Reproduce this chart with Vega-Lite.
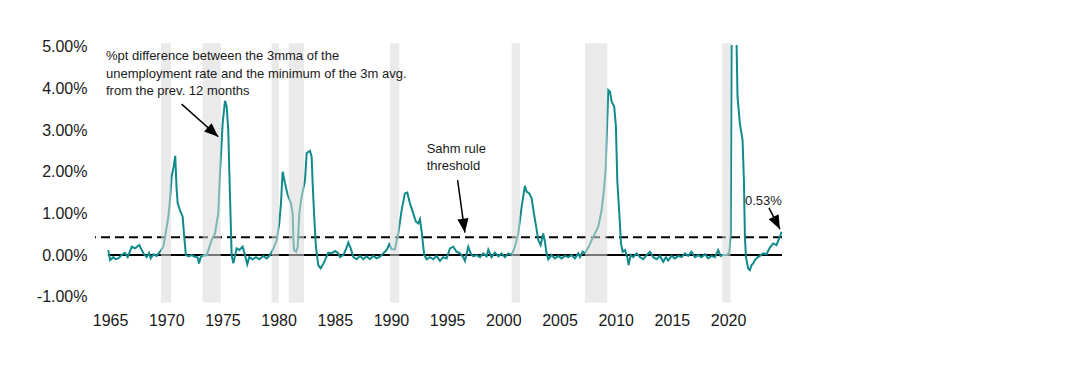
{
  "$schema": "https://vega.github.io/schema/vega-lite/v6.json",
  "width": 687,
  "height": 258,
  "autosize": {"type": "none"},
  "padding": {"left": 95, "top": 45, "right": 306, "bottom": 67},
  "background": "white",
  "config": {"view": {"stroke": null}, "font": "Liberation Sans"},
  "datasets": {
    "series": [
      {"t": 1964.84, "v": 0.12}, {"t": 1965.0, "v": -0.12}, {"t": 1965.29, "v": -0.05}, {"t": 1965.5, "v": -0.1}, {"t": 1965.73, "v": -0.08},
      {"t": 1966.03, "v": 0}, {"t": 1966.33, "v": 0.05}, {"t": 1966.57, "v": -0.05}, {"t": 1966.93, "v": 0.2}, {"t": 1967.22, "v": 0.16},
      {"t": 1967.6, "v": 0.24}, {"t": 1967.82, "v": 0.12}, {"t": 1968.02, "v": 0.02}, {"t": 1968.26, "v": -0.05}, {"t": 1968.47, "v": 0.05},
      {"t": 1968.62, "v": -0.08}, {"t": 1968.85, "v": 0.02}, {"t": 1969.15, "v": -0.02}, {"t": 1969.44, "v": 0.08}, {"t": 1969.74, "v": 0.2},
      {"t": 1969.9, "v": 0.45}, {"t": 1970.19, "v": 0.92}, {"t": 1970.33, "v": 1.32}, {"t": 1970.48, "v": 1.88}, {"t": 1970.68, "v": 2.15},
      {"t": 1970.8, "v": 2.38}, {"t": 1970.92, "v": 1.6}, {"t": 1971.02, "v": 1.24}, {"t": 1971.22, "v": 1.08}, {"t": 1971.46, "v": 0.92},
      {"t": 1971.6, "v": 0.44}, {"t": 1971.75, "v": 0.0}, {"t": 1972.0, "v": -0.03}, {"t": 1972.26, "v": 0.0}, {"t": 1972.56, "v": -0.04},
      {"t": 1972.8, "v": -0.06}, {"t": 1972.92, "v": -0.2}, {"t": 1973.1, "v": -0.02}, {"t": 1973.3, "v": -0.02}, {"t": 1973.6, "v": 0},
      {"t": 1973.75, "v": 0.12}, {"t": 1974.04, "v": 0.36}, {"t": 1974.34, "v": 0.52}, {"t": 1974.63, "v": 1.0}, {"t": 1974.78, "v": 1.96},
      {"t": 1975.02, "v": 3.16}, {"t": 1975.23, "v": 3.7}, {"t": 1975.38, "v": 3.56}, {"t": 1975.52, "v": 3.0}, {"t": 1975.61, "v": 2.04},
      {"t": 1975.82, "v": 0}, {"t": 1975.97, "v": -0.2}, {"t": 1976.27, "v": 0.16}, {"t": 1976.5, "v": 0.12}, {"t": 1976.8, "v": 0.2},
      {"t": 1977.01, "v": 0.0}, {"t": 1977.21, "v": -0.22}, {"t": 1977.39, "v": -0.05}, {"t": 1977.69, "v": -0.1}, {"t": 1977.99, "v": -0.05},
      {"t": 1978.28, "v": -0.1}, {"t": 1978.64, "v": -0.02}, {"t": 1978.94, "v": -0.08}, {"t": 1979.23, "v": 0}, {"t": 1979.53, "v": 0.15},
      {"t": 1979.83, "v": 0.36}, {"t": 1980.06, "v": 0.76}, {"t": 1980.21, "v": 1.24}, {"t": 1980.36, "v": 2.0}, {"t": 1980.57, "v": 1.72},
      {"t": 1980.81, "v": 1.44}, {"t": 1981.1, "v": 1.24}, {"t": 1981.25, "v": 1.0}, {"t": 1981.31, "v": 0.44}, {"t": 1981.37, "v": 0.12},
      {"t": 1981.55, "v": 0.08}, {"t": 1981.7, "v": 0.2}, {"t": 1981.84, "v": 1.0}, {"t": 1982.05, "v": 1.4}, {"t": 1982.35, "v": 1.8},
      {"t": 1982.5, "v": 2.45}, {"t": 1982.79, "v": 2.5}, {"t": 1982.94, "v": 2.36}, {"t": 1983.03, "v": 1.72}, {"t": 1983.17, "v": 0.92},
      {"t": 1983.32, "v": 0.2}, {"t": 1983.53, "v": -0.24}, {"t": 1983.74, "v": -0.32}, {"t": 1983.92, "v": -0.24}, {"t": 1984.13, "v": -0.12},
      {"t": 1984.42, "v": 0.06}, {"t": 1984.72, "v": 0.04}, {"t": 1985.03, "v": 0.1}, {"t": 1985.32, "v": 0.04}, {"t": 1985.46, "v": -0.05},
      {"t": 1985.76, "v": 0}, {"t": 1986.0, "v": 0.14}, {"t": 1986.2, "v": 0.3}, {"t": 1986.42, "v": 0.16}, {"t": 1986.65, "v": -0.05},
      {"t": 1986.95, "v": -0.1}, {"t": 1987.24, "v": -0.02}, {"t": 1987.54, "v": -0.1}, {"t": 1987.84, "v": -0.03}, {"t": 1988.13, "v": -0.1},
      {"t": 1988.43, "v": -0.02}, {"t": 1988.72, "v": -0.08}, {"t": 1989.02, "v": -0.04}, {"t": 1989.31, "v": 0.04}, {"t": 1989.61, "v": 0.12},
      {"t": 1989.85, "v": 0.26}, {"t": 1990.06, "v": 0.14}, {"t": 1990.35, "v": 0.14}, {"t": 1990.65, "v": 0.52}, {"t": 1990.95, "v": 1.08},
      {"t": 1991.24, "v": 1.48}, {"t": 1991.45, "v": 1.5}, {"t": 1991.69, "v": 1.24}, {"t": 1991.98, "v": 1.0}, {"t": 1992.22, "v": 0.8},
      {"t": 1992.43, "v": 0.76}, {"t": 1992.58, "v": 0.86}, {"t": 1992.73, "v": 0.56}, {"t": 1992.96, "v": 0}, {"t": 1993.18, "v": -0.1},
      {"t": 1993.47, "v": -0.05}, {"t": 1993.77, "v": -0.1}, {"t": 1994.06, "v": -0.02}, {"t": 1994.36, "v": -0.14}, {"t": 1994.65, "v": -0.05},
      {"t": 1994.95, "v": -0.08}, {"t": 1995.25, "v": 0.16}, {"t": 1995.54, "v": 0.2}, {"t": 1995.84, "v": 0.08}, {"t": 1996.14, "v": 0.04},
      {"t": 1996.43, "v": -0.05}, {"t": 1996.58, "v": -0.14}, {"t": 1996.88, "v": 0.2}, {"t": 1997.09, "v": 0.04}, {"t": 1997.32, "v": -0.03},
      {"t": 1997.62, "v": 0}, {"t": 1997.92, "v": -0.05}, {"t": 1998.21, "v": 0.04}, {"t": 1998.51, "v": -0.03}, {"t": 1998.66, "v": 0.13},
      {"t": 1998.95, "v": -0.05}, {"t": 1999.25, "v": 0.06}, {"t": 1999.55, "v": -0.03}, {"t": 1999.85, "v": 0.04}, {"t": 2000.14, "v": -0.05},
      {"t": 2000.44, "v": 0.04}, {"t": 2000.74, "v": 0}, {"t": 2001.03, "v": 0.2}, {"t": 2001.33, "v": 0.52}, {"t": 2001.63, "v": 1.16},
      {"t": 2001.92, "v": 1.66}, {"t": 2002.07, "v": 1.52}, {"t": 2002.31, "v": 1.48}, {"t": 2002.52, "v": 1.36}, {"t": 2002.72, "v": 1.0},
      {"t": 2002.9, "v": 0.72}, {"t": 2003.11, "v": 0.36}, {"t": 2003.32, "v": 0.24}, {"t": 2003.55, "v": 0.52}, {"t": 2003.7, "v": 0.32},
      {"t": 2003.85, "v": 0.04}, {"t": 2004.0, "v": -0.1}, {"t": 2004.29, "v": 0}, {"t": 2004.59, "v": -0.08}, {"t": 2004.89, "v": -0.02},
      {"t": 2005.18, "v": -0.08}, {"t": 2005.48, "v": -0.02}, {"t": 2005.78, "v": -0.05}, {"t": 2006.07, "v": 0}, {"t": 2006.37, "v": -0.08},
      {"t": 2006.67, "v": 0.04}, {"t": 2006.82, "v": -0.05}, {"t": 2007.06, "v": 0.08}, {"t": 2007.26, "v": 0.04}, {"t": 2007.56, "v": 0.18},
      {"t": 2007.86, "v": 0.36}, {"t": 2008.15, "v": 0.52}, {"t": 2008.45, "v": 0.68}, {"t": 2008.75, "v": 1.08}, {"t": 2008.95, "v": 1.56},
      {"t": 2009.1, "v": 2.04}, {"t": 2009.34, "v": 3.96}, {"t": 2009.49, "v": 3.92}, {"t": 2009.64, "v": 3.68}, {"t": 2009.87, "v": 3.56},
      {"t": 2010.02, "v": 3.08}, {"t": 2010.14, "v": 1.8}, {"t": 2010.32, "v": 1.0}, {"t": 2010.47, "v": 0.28}, {"t": 2010.62, "v": 0.08},
      {"t": 2010.83, "v": 0.12}, {"t": 2011.03, "v": -0.05}, {"t": 2011.15, "v": -0.24}, {"t": 2011.33, "v": 0}, {"t": 2011.56, "v": -0.05},
      {"t": 2011.86, "v": 0.04}, {"t": 2012.16, "v": -0.05}, {"t": 2012.45, "v": -0.1}, {"t": 2012.75, "v": 0}, {"t": 2013.05, "v": 0.08},
      {"t": 2013.34, "v": -0.05}, {"t": 2013.64, "v": -0.1}, {"t": 2013.94, "v": -0.02}, {"t": 2014.23, "v": -0.16}, {"t": 2014.47, "v": -0.05},
      {"t": 2014.67, "v": -0.13}, {"t": 2014.97, "v": -0.02}, {"t": 2015.27, "v": -0.08}, {"t": 2015.56, "v": -0.02}, {"t": 2015.86, "v": -0.05},
      {"t": 2016.16, "v": 0.04}, {"t": 2016.45, "v": -0.02}, {"t": 2016.75, "v": 0.08}, {"t": 2017.05, "v": -0.05}, {"t": 2017.34, "v": 0},
      {"t": 2017.64, "v": -0.05}, {"t": 2017.94, "v": 0.02}, {"t": 2018.23, "v": -0.08}, {"t": 2018.53, "v": -0.02}, {"t": 2018.83, "v": -0.05},
      {"t": 2019.12, "v": 0.12}, {"t": 2019.33, "v": -0.02}, {"t": 2019.56, "v": 0}, {"t": 2019.86, "v": 0}, {"t": 2020.1, "v": 0.05},
      {"t": 2020.24, "v": 0.5}, {"t": 2020.33, "v": 6.0}, {"t": 2020.5, "v": 9.8}, {"t": 2020.7, "v": 6.0}, {"t": 2020.84, "v": 3.8},
      {"t": 2021.05, "v": 3.16}, {"t": 2021.29, "v": 2.76}, {"t": 2021.41, "v": 1.8}, {"t": 2021.5, "v": 0.44}, {"t": 2021.59, "v": -0.04},
      {"t": 2021.79, "v": -0.32}, {"t": 2021.94, "v": -0.36}, {"t": 2022.09, "v": -0.24}, {"t": 2022.24, "v": -0.2}, {"t": 2022.39, "v": -0.12},
      {"t": 2022.6, "v": -0.06}, {"t": 2022.83, "v": -0.02}, {"t": 2023.13, "v": 0.04}, {"t": 2023.42, "v": 0.02}, {"t": 2023.72, "v": 0.18},
      {"t": 2024.02, "v": 0.28}, {"t": 2024.31, "v": 0.24}, {"t": 2024.61, "v": 0.44}, {"t": 2024.76, "v": 0.56}
    ],
    "recessions": [
      {"start": 1969.53, "end": 1970.42},
      {"start": 1973.24, "end": 1974.85},
      {"start": 1979.38, "end": 1980.03},
      {"start": 1980.9, "end": 1982.26},
      {"start": 1989.91, "end": 1990.74},
      {"start": 2000.74, "end": 2001.48},
      {"start": 2007.26, "end": 2009.25},
      {"start": 2019.48, "end": 2020.23}
    ],
    "notes": [
      {"x": 1964.64, "y": 4.68, "label": "%pt difference between the 3mma of the\nunemployment rate and the minimum of the 3m avg.\nfrom the prev.  12 months"},
      {"x": 1993.18, "y": 2.46, "label": "Sahm rule\nthreshold"},
      {"x": 2021.5, "y": 1.2, "label": "0.53%"}
    ],
    "arrows": [
      {"x1": 1971.37, "y1": 3.62, "x2": 1974.63, "y2": 2.84, "dir": 132},
      {"x1": 1995.93, "y1": 1.8, "x2": 1996.58, "y2": 0.54, "dir": 172},
      {"x1": 2023.64, "y1": 1.13, "x2": 2024.62, "y2": 0.62, "dir": 153}
    ]
  },
  "layer": [
    {
      "data": {"values": [{}]},
      "mark": {"type": "rule", "color": "black", "strokeWidth": 2},
      "encoding": {
        "x": {"datum": 1964.8, "type": "quantitative"},
        "x2": {"datum": 2024.8},
        "y": {"datum": 0, "type": "quantitative"}
      }
    },
    {
      "data": {"values": [{}]},
      "mark": {"type": "rule", "color": "black", "strokeWidth": 2, "strokeDash": [9, 5]},
      "encoding": {
        "y": {"datum": 0.43, "type": "quantitative"}
      }
    },
    {
      "data": {"name": "series"},
      "mark": {"type": "line", "color": "#108a8c", "strokeWidth": 2, "clip": true},
      "encoding": {
        "x": {
          "field": "t", "type": "quantitative",
          "scale": {"domain": [1963.66, 2024.8], "nice": false, "zero": false},
          "axis": {
            "title": null, "values": [1965, 1970, 1975, 1980, 1985, 1990, 1995, 2000, 2005, 2010, 2015, 2020],
            "format": "d", "ticks": false, "domain": false, "grid": false,
            "labelFont": "Liberation Sans", "labelFontSize": 16, "labelColor": "#1a1a1a", "labelPadding": 9
          }
        },
        "y": {
          "field": "v", "type": "quantitative",
          "scale": {"domain": [-1.15, 5.04], "nice": false, "zero": false},
          "axis": {
            "title": null, "values": [-1, 0, 1, 2, 3, 4, 5],
            "labelExpr": "(datum.value < 0 ? '-' : '') + format(abs(datum.value), '.2f') + '%'",
            "ticks": false, "domain": false, "grid": false,
            "labelFont": "Liberation Sans", "labelFontSize": 16, "labelColor": "#1a1a1a", "labelPadding": 8
          }
        }
      }
    },
    {
      "data": {"name": "recessions"},
      "mark": {"type": "rect", "color": "#d9d9d9", "opacity": 0.55},
      "encoding": {
        "x": {"field": "start", "type": "quantitative"},
        "x2": {"field": "end"},
        "y": {"datum": 5.08, "type": "quantitative"},
        "y2": {"datum": -1.14}
      }
    },
    {
      "data": {"name": "notes"},
      "mark": {"type": "text", "align": "left", "baseline": "alphabetic", "font": "Liberation Sans", "fontSize": 13, "lineHeight": 17.5, "lineBreak": "\n", "color": "#1a1a1a"},
      "encoding": {
        "x": {"field": "x", "type": "quantitative"},
        "y": {"field": "y", "type": "quantitative"},
        "text": {"field": "label", "type": "nominal"}
      }
    },
    {
      "data": {"name": "arrows"},
      "mark": {"type": "rule", "color": "black", "strokeWidth": 1.5},
      "encoding": {
        "x": {"field": "x1", "type": "quantitative"},
        "y": {"field": "y1", "type": "quantitative"},
        "x2": {"field": "x2"},
        "y2": {"field": "y2"}
      }
    },
    {
      "data": {"name": "arrows"},
      "mark": {"type": "point", "shape": "M0,0L-0.8,2L0.8,2Z", "filled": true, "color": "black", "opacity": 1, "size": 196},
      "encoding": {
        "x": {"field": "x2", "type": "quantitative"},
        "y": {"field": "y2", "type": "quantitative"},
        "angle": {"field": "dir", "type": "quantitative", "scale": null}
      }
    }
  ]
}
